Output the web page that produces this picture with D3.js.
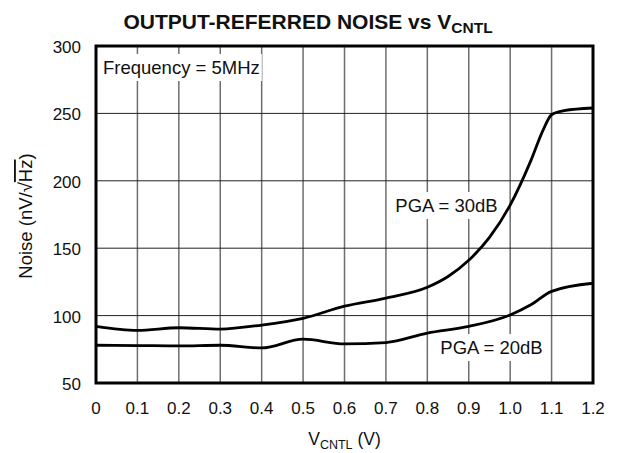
<!DOCTYPE html>
<html>
<head>
<meta charset="utf-8">
<script src="https://cdn.jsdelivr.net/npm/d3@7"></script>
<style>
  body { margin: 0; background: #fff; }
  text { font-family: "Liberation Sans", Arial, sans-serif; fill: #111; }
</style>
</head>
<body>
<svg id="chart" width="618" height="453"></svg>
<script>
// ====================== DATA ======================
const vcntl30 = [0, 0.1, 0.2, 0.3, 0.4, 0.5, 0.6, 0.7, 0.8, 0.85, 0.9, 0.95, 1.0, 1.05, 1.08, 1.1, 1.13, 1.2];
const noise30 = [92, 89, 91, 90, 93, 98, 107, 113, 121, 129, 141, 158, 182, 215, 238, 249, 252, 254];
const vcntl20 = [0, 0.1, 0.2, 0.3, 0.4, 0.5, 0.6, 0.7, 0.8, 0.9, 1.0, 1.05, 1.1, 1.2];
const noise20 = [78, 77.8, 77.5, 78, 76, 82.5, 79, 80, 87, 92, 100.5, 108, 118, 124];
const xTicks = [0, 0.1, 0.2, 0.3, 0.4, 0.5, 0.6, 0.7, 0.8, 0.9, 1.0, 1.1, 1.2];
const xTickLabels = ["0", "0.1", "0.2", "0.3", "0.4", "0.5", "0.6", "0.7", "0.8", "0.9", "1.0", "1.1", "1.2"];
const yTicks = [50, 100, 150, 200, 250, 300];

// ====================== LAYOUT ======================
let marginLeft = 96, marginRight = 25, marginTop = 46, marginBottom = 70;
let width = 618, height = 453;

let svg = d3.select("#chart");

let x = d3.scaleLinear().domain([0, 1.2]).range([marginLeft, width - marginRight]);
let y = d3.scaleLinear().domain([50, 300]).range([height - marginBottom, marginTop]);

// grid lines
svg.append("g")
  .selectAll("line")
  .data(xTicks.slice(1, -1))
  .enter()
  .append("line")
  .attr("x1", d => x(d)).attr("x2", d => x(d))
  .attr("y1", y(300)).attr("y2", y(50))
  .attr("stroke", "#6e6e6e")
  .attr("stroke-width", 1.5);

svg.append("g")
  .selectAll("line")
  .data(yTicks.slice(1, -1))
  .enter()
  .append("line")
  .attr("x1", x(0)).attr("x2", x(1.2))
  .attr("y1", d => y(d)).attr("y2", d => y(d))
  .attr("stroke", "#222")
  .attr("stroke-width", 1);

// label boxes (white background breaking the grid)
function labelBox(tx, ty, txt, anchor) {
  let t = svg.append("text")
    .attr("x", tx).attr("y", ty)
    .attr("text-anchor", anchor)
    .style("font-size", "18.5px")
    .text(txt);
  let bb = t.node().getBBox();
  svg.insert("rect", "text")
    .attr("x", bb.x - 4).attr("y", bb.y - 3)
    .attr("width", bb.width + 6).attr("height", bb.height + 6)
    .attr("fill", "#fff");
  return t;
}

labelBox(x(0) + 7, 74, "Frequency = 5MHz", "start");
labelBox(446.5, 212, "PGA = 30dB", "middle");
labelBox(491.5, 354, "PGA = 20dB", "middle");

// curves
let line = d3.line().curve(d3.curveMonotoneX);

svg.append("path")
  .attr("d", line(vcntl30.map((v, i) => [x(v), y(noise30[i])])))
  .attr("fill", "none")
  .attr("stroke", "#000")
  .attr("stroke-width", 2.8);

svg.append("path")
  .attr("d", line(vcntl20.map((v, i) => [x(v), y(noise20[i])])))
  .attr("fill", "none")
  .attr("stroke", "#000")
  .attr("stroke-width", 2.8);

// frame
svg.append("rect")
  .attr("x", x(0)).attr("y", y(300))
  .attr("width", x(1.2) - x(0)).attr("height", y(50) - y(300))
  .attr("fill", "none")
  .attr("stroke", "#000")
  .attr("stroke-width", 3);

// y tick labels
svg.append("g")
  .selectAll("text")
  .data(yTicks)
  .enter()
  .append("text")
  .attr("x", 81)
  .attr("y", d => y(d) + 7)
  .attr("text-anchor", "end")
  .style("font-size", "17px")
  .text(d => d);

// x tick labels
svg.append("g")
  .selectAll("text")
  .data(xTicks)
  .enter()
  .append("text")
  .attr("x", d => x(d))
  .attr("y", 414)
  .attr("text-anchor", "middle")
  .style("font-size", "17px")
  .text((d, i) => xTickLabels[i]);

// x-axis label
let xl = svg.append("text")
  .attr("x", x(0.6))
  .attr("y", 445)
  .attr("text-anchor", "middle")
  .style("font-size", "17.5px");
xl.append("tspan").text("V");
xl.append("tspan").attr("dy", 4).style("font-size", "12.5px").text("CNTL");
xl.append("tspan").attr("dy", -4).text(" (V)");

// y-axis label
let yl = svg.append("text")
  .attr("transform", `translate(32,216) rotate(-90)`)
  .attr("text-anchor", "middle")
  .style("font-size", "18.5px");
yl.append("tspan").text("Noise (nV/√");
yl.append("tspan").style("text-decoration", "overline").text("Hz");
yl.append("tspan").text(")");

// title
let title = svg.append("text")
  .attr("x", 308)
  .attr("y", 29)
  .attr("text-anchor", "middle")
  .style("font-size", "21px")
  .style("font-weight", "bold");
title.append("tspan").text("OUTPUT-REFERRED NOISE vs V");
title.append("tspan").attr("dy", 4).style("font-size", "15.5px").text("CNTL");
</script>
</body>
</html>
